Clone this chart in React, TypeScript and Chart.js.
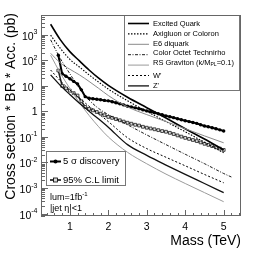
import React, { useEffect, useRef } from 'react';
import { Chart, registerables } from 'chart.js';
Chart.register(...registerables);

// ---- data ----
const massGrid = [0.5, 0.75, 1.0, 1.25, 1.5, 1.75, 2.0, 2.5, 3.0, 3.5, 4.0, 4.5, 5.0];
const excitedQuark = [2600, 650, 220, 95, 42, 20, 10.5, 3.6, 1.4, 0.55, 0.21, 0.083, 0.031];
const axigluon = [970, 300, 110, 55, 27, 14, 7.5, 2.6, 1.0, 0.4, 0.16, 0.062, 0.024];
const e6Diquark = [190, 80, 45, 27, 15, 8, 4.2, 1.5, 0.75, 0.4, 0.21, 0.11, 0.059];
const technirhoMass = [0.5, 0.75, 1.0, 1.25, 1.5, 1.75, 2.0, 2.5, 3.0, 3.5, 4.0, 4.5, 5.0, 5.2];
const technirho = [640, 120, 30, 8, 2.8, 1.3, 0.75, 0.3, 0.12, 0.05, 0.021, 0.009, 0.0037, 0.0027];
const rsGraviton = [160, 32, 8, 2.2, 0.7, 0.25, 0.1, 0.025, 0.0089, 0.0035, 0.0015, 0.00066, 0.00029];
const wPrime = [42, 16, 7, 3.3, 1.6, 0.8, 0.4, 0.093, 0.035, 0.016, 0.0074, 0.0034, 0.0016];
const zPrime = [27, 10.5, 4.6, 2.1, 1.02, 0.5, 0.24, 0.05, 0.019, 0.0079, 0.0034, 0.0015, 0.00066];

const massFine = [0.7, 0.8, 0.9, 1.0, 1.1, 1.2, 1.3, 1.4, 1.5, 1.6, 1.7, 1.8, 1.9, 2.0, 2.1, 2.2, 2.3, 2.4, 2.5, 2.6, 2.7, 2.8, 2.9, 3.0, 3.1, 3.2, 3.3, 3.4, 3.5, 3.6, 3.7, 3.8, 3.9, 4.0, 4.1, 4.2, 4.3, 4.4, 4.5, 4.6, 4.7, 4.8, 4.9, 5.0];
const discovery5Sigma = [160, 30, 24, 19, 15, 12, 7, 3.8, 3.3, 3.15, 3.0, 2.85, 2.7, 2.6, 2.4, 2.2, 2.0, 1.8, 1.6, 1.5, 1.38, 1.27, 1.15, 1.05, 0.97, 0.89, 0.81, 0.74, 0.67, 0.62, 0.57, 0.52, 0.47, 0.43, 0.4, 0.37, 0.34, 0.3, 0.27, 0.25, 0.23, 0.21, 0.19, 0.17];
const limit95 = [40, 10, 8, 6.5, 5.2, 4.2, 2.5, 1.5, 1.25, 1.1, 0.95, 0.82, 0.71, 0.61, 0.56, 0.5, 0.45, 0.4, 0.36, 0.33, 0.3, 0.28, 0.25, 0.23, 0.215, 0.2, 0.185, 0.17, 0.16, 0.145, 0.13, 0.115, 0.103, 0.092, 0.084, 0.076, 0.069, 0.061, 0.054, 0.049, 0.044, 0.039, 0.035, 0.031];

const xTickValues = [1, 2, 3, 4, 5];
const xTickLabels = ['1', '2', '3', '4', '5'];
const yTickValues = [1e-4, 1e-3, 1e-2, 1e-1, 1, 10, 100, 1000];
const yTickBases = ['10', '10', '10', '10', '1', '10', '10', '10'];
const yTickExps = ['-4', '-3', '-2', '-1', '', '', '2', '3'];

const modelNames = ['Excited Quark', 'Axigluon or Coloron', 'E6 diquark', 'Color Octet Technirho', 'RS Graviton', "W'", "Z'"];
const limitNames = ['5 \u03c3 discovery', '95% C.L limit'];
const xTitle = 'Mass (TeV)';
const yTitle = 'Cross section * BR * Acc. (pb)';

const FONT = "'Liberation Sans', Arial, Helvetica, sans-serif";

type Style = { color: string; width: number; dash: number[] };
const styles: Style[] = [
  { color: '#000', width: 1.6, dash: [] },
  { color: '#000', width: 1.1, dash: [1.5, 1.5] },
  { color: '#8a8a8a', width: 1, dash: [] },
  { color: '#000', width: 0.9, dash: [3, 1.5, 1, 1.5] },
  { color: '#9a9a9a', width: 1, dash: [] },
  { color: '#000', width: 1, dash: [2, 2] },
  { color: '#111', width: 1.3, dash: [] },
];

function pts(xs: number[], ys: number[]) {
  return xs.map((x, i) => ({ x, y: ys[i] }));
}

const overlay = {
  id: 'rootStyle',
  afterDatasetsDraw(chart: any) {
    const ctx: CanvasRenderingContext2D = chart.ctx;
    const { left, right, top, bottom } = chart.chartArea;
    const xs = chart.scales.x;
    const ys = chart.scales.y;
    ctx.save();

    // top legend box
    const lx0 = 124, ly0 = top, lx1 = 240, ly1 = 91;
    ctx.fillStyle = '#fff';
    ctx.fillRect(lx0, ly0, lx1 - lx0, ly1 - ly0);
    ctx.strokeStyle = '#777';
    ctx.lineWidth = 1;
    ctx.setLineDash([]);
    ctx.strokeRect(lx0 + 0.5, ly0 + 0.5, lx1 - lx0 - 1, ly1 - ly0 - 1);
    ctx.font = `7.5px ${FONT}`;
    ctx.textBaseline = 'middle';
    ctx.textAlign = 'left';
    modelNames.forEach((name, i) => {
      const y = 23.5 + i * 10.4;
      const st = styles[i];
      ctx.beginPath();
      ctx.strokeStyle = st.color;
      ctx.lineWidth = st.width;
      ctx.setLineDash(st.dash);
      ctx.moveTo(128, y);
      ctx.lineTo(149, y);
      ctx.stroke();
      ctx.setLineDash([]);
      ctx.fillStyle = '#000';
      if (i === 4) {
        const ty = y - 2.5;
        ctx.font = `7.5px ${FONT}`;
        const a = 'RS Graviton (k/M';
        ctx.fillText(a, 153, ty);
        let x = 153 + ctx.measureText(a).width;
        ctx.font = `5px ${FONT}`;
        ctx.fillText('PL', x, ty + 2.5);
        x += ctx.measureText('PL').width;
        ctx.font = `7.5px ${FONT}`;
        ctx.fillText('=0.1)', x, ty);
      } else {
        ctx.fillText(name, 153, i === 3 ? y - 1.5 : y);
      }
    });

    // bottom-left legend box
    const bx0 = 46, by0 = 151, bx1 = 126, by1 = 186;
    ctx.fillStyle = '#fff';
    ctx.fillRect(bx0, by0, bx1 - bx0, by1 - by0);
    ctx.strokeStyle = '#777';
    ctx.lineWidth = 1;
    ctx.strokeRect(bx0 + 0.5, by0 + 0.5, bx1 - bx0 - 1, by1 - by0 - 1);
    ctx.font = `9.5px ${FONT}`;
    limitNames.forEach((name, i) => {
      const y = i === 0 ? 161.5 : 180;
      ctx.beginPath();
      ctx.strokeStyle = '#000';
      ctx.lineWidth = i === 0 ? 2 : 1.5;
      ctx.moveTo(50, y);
      ctx.lineTo(61, y);
      ctx.stroke();
      if (i === 0) {
        ctx.beginPath();
        ctx.fillStyle = '#000';
        ctx.arc(55.5, y, 2, 0, Math.PI * 2);
        ctx.fill();
      } else {
        ctx.fillStyle = '#ddd';
        ctx.fillRect(53.5, y - 2, 4, 4);
        ctx.lineWidth = 0.8;
        ctx.strokeRect(53.5, y - 2, 4, 4);
      }
      ctx.fillStyle = '#000';
      ctx.textBaseline = 'middle';
      ctx.fillText(name, 63, y);
    });

    // annotations
    ctx.font = `9px ${FONT}`;
    ctx.textBaseline = 'alphabetic';
    const lum = 'lum=1fb';
    ctx.fillText(lum, 50, 200);
    const lw = ctx.measureText(lum).width;
    ctx.font = `6px ${FONT}`;
    ctx.fillText('-1', 50 + lw, 196);
    ctx.font = `9px ${FONT}`;
    ctx.fillText('|jet \u03b7|<1', 50, 211);

    // frame
    ctx.strokeStyle = '#666';
    ctx.lineWidth = 1;
    ctx.strokeRect(left + 0.5, top + 0.5, right - left - 1, bottom - top - 1);

    // x ticks
    ctx.beginPath();
    for (let k = 2; k <= 27; k++) {
      const v = k * 0.2;
      const px = Math.round(xs.getPixelForValue(v)) + 0.5;
      const major = k % 5 === 0;
      ctx.moveTo(px, bottom);
      ctx.lineTo(px, bottom - (major ? 6 : 3));
    }
    // y ticks
    for (let e = -5; e <= 3; e++) {
      for (let m = 1; m <= 9; m++) {
        const v = m * Math.pow(10, e);
        if (v < ys.min || v > ys.max) continue;
        const py = Math.round(ys.getPixelForValue(v)) + 0.5;
        ctx.moveTo(left, py);
        ctx.lineTo(left + (m === 1 ? 7 : 4), py);
      }
    }
    ctx.stroke();

    // x tick labels
    ctx.fillStyle = '#000';
    ctx.font = `10.5px ${FONT}`;
    ctx.textAlign = 'center';
    ctx.textBaseline = 'alphabetic';
    xTickValues.forEach((v, i) => {
      ctx.fillText(xTickLabels[i], xs.getPixelForValue(v), 230);
    });

    // y tick labels
    yTickValues.forEach((v, i) => {
      const py = ys.getPixelForValue(v);
      const base = yTickBases[i];
      const exp = yTickExps[i];
      ctx.textAlign = 'right';
      if (base === '1') {
        ctx.font = `10.5px ${FONT}`;
        ctx.fillText(base, 37.5, py + 4);
        return;
      }
      ctx.font = `7px ${FONT}`;
      const ew = exp ? ctx.measureText(exp).width : ctx.measureText('1').width;
      if (exp) ctx.fillText(exp, 37.5, py - 0.5);
      ctx.font = `10.5px ${FONT}`;
      ctx.fillText(base, 37.5 - ew, py + 5);
    });

    // axis titles
    ctx.font = `14px ${FONT}`;
    ctx.textAlign = 'right';
    ctx.textBaseline = 'alphabetic';
    ctx.fillText(xTitle, right, 245);
    ctx.save();
    ctx.translate(15, 13);
    ctx.rotate(-Math.PI / 2);
    ctx.fillText(yTitle, 0, 0);
    ctx.restore();

    ctx.restore();
  },
};

export default function App() {
  const ref = useRef<HTMLCanvasElement | null>(null);
  useEffect(() => {
    document.body.style.margin = '0';
    const canvas = ref.current!;
    const model = (label: string, xsArr: number[], ysArr: number[], st: Style) => ({
      label,
      data: pts(xsArr, ysArr),
      borderColor: st.color,
      borderWidth: st.width,
      borderDash: st.dash,
      pointRadius: 0,
      fill: false,
      cubicInterpolationMode: 'monotone' as const,
    });
    const datasets: any[] = [
      model(modelNames[6], massGrid, zPrime, styles[6]),
      model(modelNames[5], massGrid, wPrime, styles[5]),
      model(modelNames[4], massGrid, rsGraviton, styles[4]),
      model(modelNames[3], technirhoMass, technirho, styles[3]),
      model(modelNames[2], massGrid, e6Diquark, styles[2]),
      model(modelNames[1], massGrid, axigluon, styles[1]),
      model(modelNames[0], massGrid, excitedQuark, styles[0]),
      {
        label: limitNames[1],
        data: pts(massFine, limit95),
        borderColor: '#222',
        borderWidth: 1.5,
        pointStyle: 'rect',
        pointRadius: 2,
        pointBorderWidth: 0.8,
        pointBorderColor: '#222',
        pointBackgroundColor: '#ddd',
        fill: false,
      },
      {
        label: limitNames[0],
        data: pts(massFine, discovery5Sigma),
        borderColor: '#000',
        borderWidth: 2,
        pointStyle: 'circle',
        pointRadius: 1.7,
        pointBorderWidth: 0,
        pointBackgroundColor: '#000',
        fill: false,
      },
    ];
    const chart = new Chart(canvas, {
      type: 'line',
      data: { datasets },
      options: {
        animation: false,
        responsive: false,
        devicePixelRatio: 1,
        events: [],
        layout: { padding: { left: 41, top: 15, right: 21, bottom: 38 } },
        plugins: { legend: { display: false }, tooltip: { enabled: false }, title: { display: false } },
        scales: {
          x: { type: 'linear', min: 0.25, max: 5.45, display: false },
          y: { type: 'logarithmic', min: 8e-5, max: 6e3, display: false },
        },
      },
      plugins: [overlay],
    });
    return () => chart.destroy();
  }, []);
  return (
    <div style={{ width: 262, height: 254, background: '#fff' }}>
      <canvas ref={ref} width={262} height={254} style={{ display: 'block' }} />
    </div>
  );
}
